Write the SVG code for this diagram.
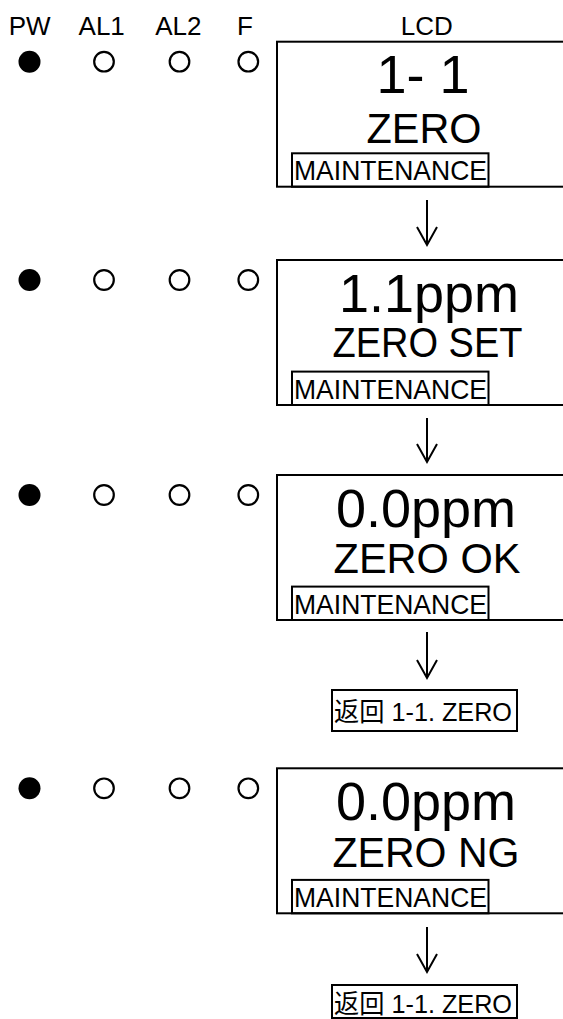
<svg xmlns="http://www.w3.org/2000/svg" width="563" height="1019" viewBox="0 0 563 1019">
<style>
.hdr{font-family:"Liberation Sans",Arial,sans-serif;font-size:26px;fill:#000;text-anchor:middle}
.val{font-family:"Liberation Sans",Arial,sans-serif;font-size:54px;fill:#000;text-anchor:middle}
.lbl{font-family:"Liberation Sans",Arial,sans-serif;font-size:43px;fill:#000;text-anchor:middle}
.mnt{font-family:"Liberation Sans",Arial,sans-serif;font-size:27.5px;fill:#000}
.ret{font-family:"Liberation Sans","Noto Sans CJK SC",sans-serif;font-size:26.5px;fill:#000}
.frame{fill:none;stroke:#000;stroke-width:2}
.on{fill:#000}
.off{fill:none;stroke:#000;stroke-width:2.2}
.arr{fill:none;stroke:#000;stroke-width:2}
</style>
<g id="header">
<text class="hdr" x="29.7" y="35">PW</text>
<text class="hdr" x="101.7" y="35">AL1</text>
<text class="hdr" x="178.3" y="35">AL2</text>
<text class="hdr" x="245" y="35">F</text>
<text class="hdr" x="426.7" y="35">LCD</text>
</g>
<g id="state1" transform="translate(0,41.7)">
<circle class="on" cx="29.5" cy="20" r="11"/>
<circle class="off" cx="104" cy="20" r="9.8"/>
<circle class="off" cx="179.5" cy="20" r="9.8"/>
<circle class="off" cx="248.3" cy="20" r="9.8"/>
<rect class="frame" x="277" y="0" width="300" height="145"/>
<text class="val" x="423" y="51.6">1- 1</text>
<text class="lbl" x="424" y="101.6" textLength="115" lengthAdjust="spacingAndGlyphs">ZERO</text>
<rect class="frame" x="292" y="111.6" width="196.5" height="33.4"/>
<text class="mnt" x="294" y="138.8" textLength="193" lengthAdjust="spacingAndGlyphs">MAINTENANCE</text>
</g>
<g id="state2" transform="translate(0,260)">
<circle class="on" cx="29.5" cy="20" r="11"/>
<circle class="off" cx="104" cy="20" r="9.8"/>
<circle class="off" cx="179.5" cy="20" r="9.8"/>
<circle class="off" cx="248.3" cy="20" r="9.8"/>
<rect class="frame" x="277" y="0" width="300" height="145"/>
<text class="val" x="429" y="51.7">1.1ppm</text>
<text class="lbl" x="427.5" y="97" textLength="190" lengthAdjust="spacingAndGlyphs">ZERO SET</text>
<rect class="frame" x="292" y="111.6" width="196.5" height="33.4"/>
<text class="mnt" x="294" y="138.8" textLength="193" lengthAdjust="spacingAndGlyphs">MAINTENANCE</text>
</g>
<g id="state3" transform="translate(0,475)">
<circle class="on" cx="29.5" cy="20" r="11"/>
<circle class="off" cx="104" cy="20" r="9.8"/>
<circle class="off" cx="179.5" cy="20" r="9.8"/>
<circle class="off" cx="248.3" cy="20" r="9.8"/>
<rect class="frame" x="277" y="0" width="300" height="145"/>
<text class="val" x="426" y="51.7">0.0ppm</text>
<text class="lbl" x="427" y="98" textLength="187" lengthAdjust="spacingAndGlyphs">ZERO OK</text>
<rect class="frame" x="292" y="111.6" width="196.5" height="33.4"/>
<text class="mnt" x="294" y="138.8" textLength="193" lengthAdjust="spacingAndGlyphs">MAINTENANCE</text>
</g>
<g id="return1">
<rect class="frame" x="332" y="690" width="185" height="41"/>
<text class="ret" x="334" y="721" textLength="178" lengthAdjust="spacingAndGlyphs">返回 1-1. ZERO</text>
</g>
<g id="state4" transform="translate(0,768.3)">
<circle class="on" cx="29.5" cy="20" r="11"/>
<circle class="off" cx="104" cy="20" r="9.8"/>
<circle class="off" cx="179.5" cy="20" r="9.8"/>
<circle class="off" cx="248.3" cy="20" r="9.8"/>
<rect class="frame" x="277" y="0" width="300" height="145"/>
<text class="val" x="426" y="51.7">0.0ppm</text>
<text class="lbl" x="426" y="98.4" textLength="187" lengthAdjust="spacingAndGlyphs">ZERO NG</text>
<rect class="frame" x="292" y="111.6" width="196.5" height="33.4"/>
<text class="mnt" x="294" y="138.8" textLength="193" lengthAdjust="spacingAndGlyphs">MAINTENANCE</text>
</g>
<g id="return2">
<rect class="frame" x="332" y="985" width="185" height="33"/>
<text class="ret" x="334" y="1013" textLength="178" lengthAdjust="spacingAndGlyphs">返回 1-1. ZERO</text>
</g>
<g id="connectors">
<path class="arr" d="M427,200 V245 M417,227 L427,245 L437,227"/>
<path class="arr" d="M427,418 V462 M417,444 L427,462 L437,444"/>
<path class="arr" d="M427,632 V678 M417,660 L427,678 L437,660"/>
<path class="arr" d="M427,927 V972 M417,954 L427,972 L437,954"/>
</g>
</svg>
